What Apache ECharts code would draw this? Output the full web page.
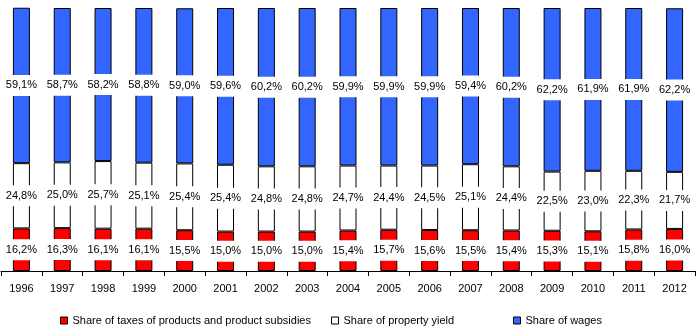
<!DOCTYPE html>
<html>
<head>
<meta charset="utf-8">
<script src="https://cdn.jsdelivr.net/npm/echarts@6/dist/echarts.min.js"></script>
<style>
  html, body { margin: 0; padding: 0; background: #fff; }
  #chart { width: 696px; height: 332px; }
</style>
</head>
<body>
<div id="chart"></div>
<script>
// Structure of gross value added by income component, 1996–2012 (%)
var years = ['1996','1997','1998','1999','2000','2001','2002','2003','2004','2005','2006','2007','2008','2009','2010','2011','2012'];
var taxShare = [16.2,16.3,16.1,16.1,15.5,15.0,15.0,15.0,15.4,15.7,15.6,15.5,15.4,15.3,15.1,15.8,16.0];
var propertyShare = [24.8,25.0,25.7,25.1,25.4,25.4,24.8,24.8,24.7,24.4,24.5,25.1,24.4,22.5,23.0,22.3,21.7];
var wageShare = [59.1,58.7,58.2,58.8,59.0,59.6,60.2,60.2,59.9,59.9,59.9,59.4,60.2,62.2,61.9,61.9,62.2];
var seriesNames = ['Share of taxes of products and product subsidies', 'Share of property yield', 'Share of wages'];

var FONT = 'Liberation Sans, Arial, sans-serif';

function pct(p) {
  return p.value.toFixed(1).replace('.', ',') + '%';
}

function makeSeries(name, data, color) {
  return {
    name: name,
    type: 'bar',
    stack: 'total',
    data: data,
    barWidth: 17,
    clip: false,
    itemStyle: { color: color, borderColor: '#000', borderWidth: 1 },
    label: {
      show: true,
      position: 'inside',
      formatter: pct,
      color: '#000',
      fontFamily: FONT,
      fontSize: 11,
      backgroundColor: '#fff',
      padding: [5, 3, 5, 3]
    },
    emphasis: { disabled: true }
  };
}

// one legend block per series so each entry can sit at its own x position
function legendAt(left, name) {
  return {
    left: left,
    top: 315,
    padding: 0,
    icon: 'rect',
    itemWidth: 7,
    itemHeight: 7,
    itemGap: 5,
    data: [name],
    textStyle: { fontFamily: FONT, fontSize: 11, color: '#000' },
    itemStyle: { borderColor: '#000', borderWidth: 1 }
  };
}

var chart = echarts.init(document.getElementById('chart'), null, { renderer: 'canvas' });
chart.setOption({
  animation: false,
  backgroundColor: '#fff',
  grid: { left: 1, right: 1, top: 8, bottom: 61, containLabel: false },
  legend: [
    legendAt(60, seriesNames[0]),
    legendAt(331, seriesNames[1]),
    legendAt(513, seriesNames[2])
  ],
  xAxis: {
    type: 'category',
    data: years,
    axisLine: { lineStyle: { color: '#000', width: 1 } },
    axisTick: { show: true, length: 5, inside: false, lineStyle: { color: '#000' } },
    axisLabel: { color: '#000', fontFamily: FONT, fontSize: 11, margin: 12 }
  },
  yAxis: {
    type: 'value',
    min: 0,
    max: 100,
    show: false,
    splitLine: { show: false }
  },
  series: [
    makeSeries(seriesNames[0], taxShare, '#ff0000'),
    makeSeries(seriesNames[1], propertyShare, '#ffffff'),
    makeSeries(seriesNames[2], wageShare, '#3366ff')
  ]
});
</script>
</body>
</html>
